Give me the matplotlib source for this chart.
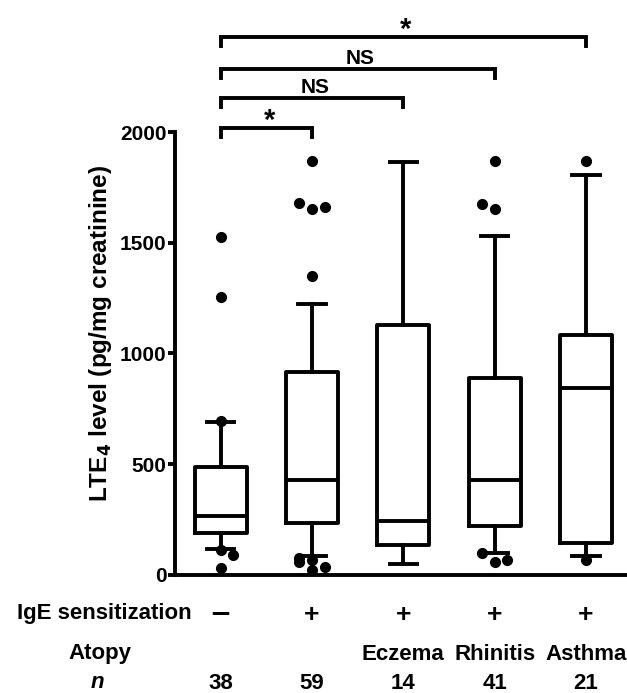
import matplotlib

matplotlib.use('Agg')
import matplotlib.pyplot as plt
import matplotlib.transforms as mtransforms

plt.rcParams['font.family'] = ['Liberation Sans', 'DejaVu Sans']
plt.rcParams['font.weight'] = 'bold'

# box statistics (pg/mg creatinine)
groups = ['ctrl', 'atopy', 'eczema', 'rhinitis', 'asthma']
whislo = [118, 85, 50, 98, 86]
q1 = [188, 233, 135, 221, 146]
med = [265, 428, 243, 428, 846]
q3 = [489, 915, 1129, 891, 1083]
whishi = [692, 1222, 1866, 1532, 1806]

# outlying points, with the side they were nudged to (-1 left, 0 centre, 1 right)
fliers = [
    [1527, 1256, 697, 112, 90, 30],
    [1869, 1678, 1651, 1660, 1351, 77, 58, 66, 37, 22],
    [],
    [1869, 1675, 1651, 98, 60, 68],
    [1869, 68],
]
flier_side = [
    [0, 0, 0, 0, 1, 0],
    [0, -1, 0, 1, 0, -1, -1, 0, 1, 0],
    [],
    [0, -1, 0, -1, 0, 1],
    [0, 0],
]

ige = ['\u2212', '+', '+', '+', '+']
atopy = ['', '', 'Eczema', 'Rhinitis', 'Asthma']
n_obs = ['38', '59', '14', '41', '21']

# comparisons against the first group: (other group, label, bracket height)
comparisons = [(2, '*', 2017), (3, 'NS', 2152), (4, 'NS', 2284), (5, '*', 2428)]

fig = plt.figure(figsize=(6.27, 6.93), dpi=100)
ax = fig.add_axes([0.2791, 0.1703, 0.7209, 0.6392])

lw = 2.8
stats = []
for i in range(len(groups)):
    stats.append({'whislo': whislo[i], 'q1': q1[i], 'med': med[i],
                  'q3': q3[i], 'whishi': whishi[i], 'fliers': []})
positions = list(range(1, len(groups) + 1))
ax.bxp(stats, positions=positions, widths=0.57, capwidths=0.3,
       showfliers=False,
       boxprops=dict(color='black', linewidth=lw),
       medianprops=dict(color='black', linewidth=lw),
       whiskerprops=dict(color='black', linewidth=lw),
       capprops=dict(color='black', linewidth=lw))

for pos, vals, sides in zip(positions, fliers, flier_side):
    xs = [pos + 0.14 * s for s in sides]
    ax.plot(xs, vals, 'o', color='black', markersize=7, clip_on=False, zorder=3)

ax.set_xlim(0.5, 5.45)
ax.set_ylim(0, 2000)
ax.set_yticks([0, 500, 1000, 1500, 2000])
ax.tick_params(axis='y', direction='out', length=5, width=lw, labelsize=15, pad=1)
ax.tick_params(axis='x', bottom=False, labelbottom=False)
for lab in ax.get_yticklabels():
    lab.set_fontweight('bold')
ax.spines['top'].set_visible(False)
ax.spines['right'].set_visible(False)
ax.spines['left'].set_linewidth(lw)
ax.spines['bottom'].set_linewidth(lw)

ax.set_ylabel('LTE$_\\mathbf{4}$ level (pg/mg creatinine)', fontsize=17.5, fontweight='bold')
ax.yaxis.set_label_coords(-0.135, 0.545)

# significance brackets
for other, label, h in comparisons:
    ax.plot([1, 1, other, other], [h - 40, h, h, h - 40], color='black',
            linewidth=lw, clip_on=False, solid_joinstyle='miter')
    if label == 'NS':
        ax.text((1 + other) / 2 + 0.03, h + 48, label, ha='center', va='center',
                fontsize=15, fontweight='bold')
    else:
        ax.text((1 + other) / 2 + 0.03, h + 35, label, ha='center', va='center',
                fontsize=21, fontweight='bold')

# table under the axis
trans = mtransforms.blended_transform_factory(ax.transData, ax.transAxes)
for pos, v in zip(positions, ige):
    if v == '+':
        ax.text(pos, -0.09, v, transform=trans, ha='center', va='center',
                fontsize=19, fontweight='bold')
    else:
        ax.text(pos, -0.09, v, transform=trans, ha='center', va='center',
                fontsize=19, fontweight='bold', family='DejaVu Sans')
for vals, y in [(atopy, -0.18), (n_obs, -0.245)]:
    for pos, v in zip(positions, vals):
        ax.text(pos, y, v, transform=trans, ha='center', va='center',
                fontsize=16, fontweight='bold')

fig.text(0.027, (693 - 613) / 693, 'IgE sensitization', ha='left', va='center',
         fontsize=16, fontweight='bold')
fig.text(0.16, (693 - 654) / 693, 'Atopy', ha='center', va='center',
         fontsize=16, fontweight='bold')
fig.text(0.155, (693 - 683) / 693, 'n', ha='center', va='center',
         fontsize=16, fontweight='bold', style='italic')

fig.savefig('out.png', dpi=100)
plt.close(fig)
